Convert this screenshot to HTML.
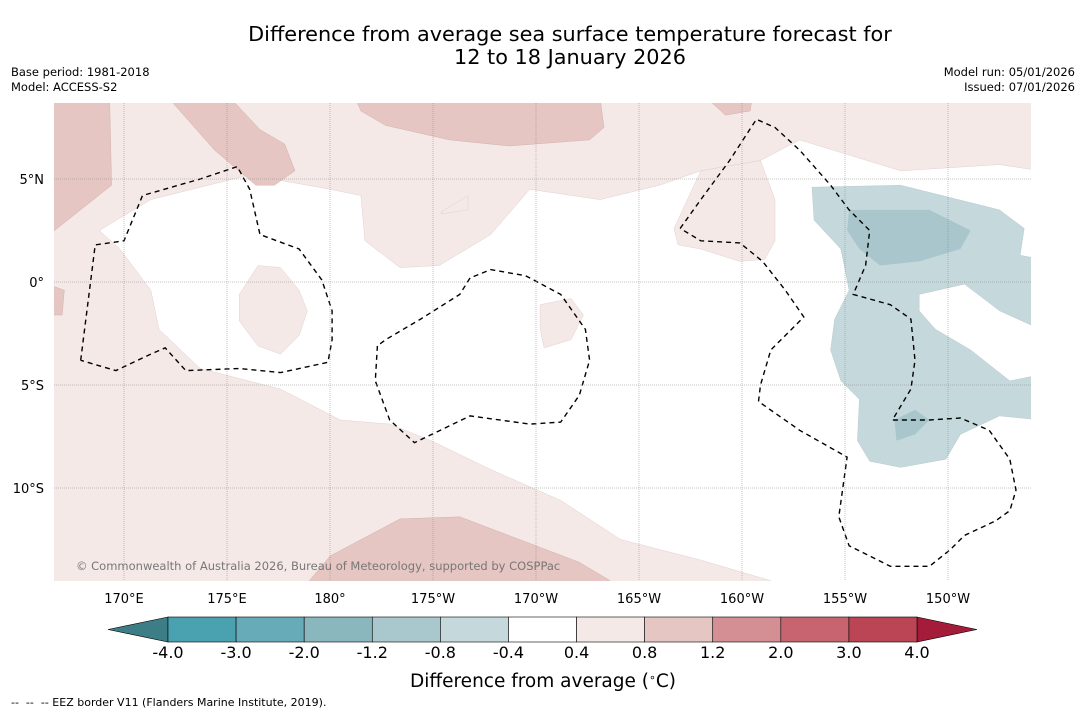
<!DOCTYPE html>
<html><head><meta charset="utf-8">
<style>
body{margin:0;background:#fff;width:1085px;height:713px;overflow:hidden;font-family:"DejaVu Sans","Liberation Sans",sans-serif;}
svg{display:block}
</style></head>
<body>
<svg id="chart" width="1085" height="713" xmlns="http://www.w3.org/2000/svg" font-family="DejaVu Sans, Liberation Sans, sans-serif">
<text x="570" y="41" text-anchor="middle" font-size="20.8">Difference from average sea surface temperature forecast for</text>
<text x="570" y="64" text-anchor="middle" font-size="20.8">12 to 18 January 2026</text>
<text x="11" y="76" font-size="11.5">Base period: 1981-2018</text>
<text x="11" y="91" font-size="11.5">Model: ACCESS-S2</text>
<text x="1075" y="76" font-size="11.5" text-anchor="end">Model run: 05/01/2026</text>
<text x="1075" y="91" font-size="11.5" text-anchor="end">Issued: 07/01/2026</text>
<defs><clipPath id="mapclip"><rect x="54" y="103" width="977" height="478"/></clipPath></defs>
<g id="map" clip-path="url(#mapclip)"></g>
<g id="grid"></g>
<text x="76" y="570" font-size="11.5" fill="#777">© Commonwealth of Australia 2026, Bureau of Meteorology, supported by COSPPac</text>
<g id="cbar"></g>
<text x="543" y="687" text-anchor="middle" font-size="18.5">Difference from average (<tspan baseline-shift="super" font-size="11">∘</tspan>C)</text>
<text x="11" y="706" font-size="11">-- &#160;-- &#160;-- EEZ border V11 (Flanders Marine Institute, 2019).</text>
</svg>
<script>
const lonTicks=[170,175,180,185,190,195,200,205,210];
const lonLabels=["170°E","175°E","180°","175°W","170°W","165°W","160°W","155°W","150°W"];
const latTicks=[5,0,-5,-10];
const latLabels=["5°N","0°","5°S","10°S"];
const levels=[-4.0,-3.0,-2.0,-1.2,-0.8,-0.4,0.4,0.8,1.2,2.0,3.0,4.0];
const levelLabels=["-4.0","-3.0","-2.0","-1.2","-0.8","-0.4","0.4","0.8","1.2","2.0","3.0","4.0"];
const binColors=["#4aa2b1","#68abb8","#89b7bd","#a9c8cd","#c5d8db","#ffffff","#f5e9e8","#e6c6c2","#d48f95","#c8646f","#bc4555"];
const lowColor="#3d7e86", highColor="#a51c3a";

const lightPinkFill=[[166,9],[215,9],[215,-15],[166,-15]];
const whiteRegion=[[168.8,2.5],[171.3,4.0],[176.1,5.2],[180.0,4.5],[181.5,4.2],[181.7,2.0],[183.4,0.7],[185.3,0.8],[187.8,2.3],[189.7,4.5],[193.1,4.0],[196.0,4.7],[198.0,5.4],[200.9,5.9],[202.8,6.9],[207.7,5.4],[212.5,5.7],[214.5,5.4],[214.5,-15],[201.4,-15],[201.4,-14.5],[198.0,-13.5],[194.1,-12.5],[191.2,-10.6],[187.8,-9.1],[184.9,-7.7],[182.9,-6.9],[180.5,-6.7],[177.6,-5.2],[173.7,-4.2],[171.7,-2.3],[171.3,-0.4],[169.8,1.6]];
const pinkPatches=[
[[196.7,2.6],[198.0,5.4],[200.9,5.9],[201.6,4.0],[201.6,2.0],[201.1,1.1],[199.9,1.0],[198.0,1.6],[196.9,1.8]],
[[175.6,-0.6],[176.5,0.8],[177.6,0.7],[178.5,-0.4],[178.9,-1.4],[178.5,-2.6],[177.6,-3.5],[176.5,-3.1],[175.6,-1.9]],
[[190.2,-1.1],[191.7,-0.8],[192.3,-1.6],[191.7,-2.8],[190.4,-3.2],[190.2,-2.3]],
[[185.4,3.4],[186.7,4.2],[186.7,3.5],[185.4,3.3]]];
const midPink=[
[[166,9],[169.3,9],[169.4,4.7],[166,2.0]],
[[172.1,9],[175.1,9],[176.6,7.4],[177.8,6.7],[178.3,5.4],[177.3,4.7],[176.4,4.7],[174.4,6.4]],
[[181.2,9],[193.1,9],[193.3,7.5],[192.6,6.9],[188.7,6.6],[185.8,6.9],[182.7,7.6],[181.5,8.3]],
[[198.2,9],[200.5,9],[200.4,8.3],[199.2,8.1]],
[[179.0,-15],[179.0,-14.5],[180.0,-13.3],[183.4,-11.5],[186.3,-11.4],[189.2,-12.5],[192.1,-13.6],[193.6,-14.5],[193.6,-15]],
[[166,0.0],[167.1,-0.4],[167.0,-1.6],[166,-1.6]]];
const lightBlue=[[203.4,4.6],[207.7,4.7],[212.5,3.5],[213.7,2.6],[213.5,1.3],[214.5,1.1],[214.5,-6.7],[212.5,-6.5],[210.6,-7.4],[209.9,-8.6],[207.7,-9.0],[206.2,-8.7],[205.6,-7.7],[205.7,-5.7],[204.8,-4.8],[204.3,-3.3],[204.5,-1.8],[205.2,-0.4],[204.8,1.6],[203.5,3.0]];
const blueHole=[[208.6,-0.6],[210.8,-0.1],[212.5,-1.4],[214.5,-2.3],[214.5,-4.5],[213.0,-4.8],[211.1,-3.3],[209.4,-2.3],[208.6,-1.4]];
const midBlue=[
[[205.2,3.5],[209.1,3.5],[211.1,2.5],[210.6,1.6],[208.6,1.0],[206.7,0.8],[205.7,1.6],[205.1,2.5]],
[[207.4,-6.7],[208.4,-6.2],[209.1,-6.7],[208.4,-7.4],[207.5,-7.7]]];
const eezA=[[167.9,-3.8],[168.6,1.8],[170.0,2.0],[170.9,4.2],[173.7,5.0],[175.5,5.6],[176.1,4.5],[176.6,2.3],[178.5,1.6],[179.6,0.1],[180.1,-1.4],[180.1,-2.8],[179.9,-3.9],[177.6,-4.4],[175.6,-4.2],[173.0,-4.3],[172.0,-3.2],[171.3,-3.5],[169.6,-4.3],[167.9,-3.8]];
const eezB=[[182.3,-3.1],[182.2,-4.8],[182.9,-6.7],[184.1,-7.8],[186.8,-6.5],[189.7,-6.9],[191.2,-6.8],[192.1,-5.5],[192.6,-3.8],[192.4,-2.3],[191.2,-0.6],[189.5,0.3],[187.8,0.6],[186.8,0.2],[186.3,-0.6],[184.4,-1.8],[182.7,-2.8],[182.3,-3.1]];
const eezC=[[197.0,2.6],[198.0,4.0],[199.4,5.9],[200.7,7.9],[201.6,7.5],[202.8,6.4],[204.3,4.7],[205.2,3.5],[206.2,2.5],[206.0,0.8],[205.4,-0.6],[207.2,-1.1],[208.2,-1.8],[208.4,-3.8],[208.2,-5.2],[207.3,-6.7],[209.1,-6.7],[210.6,-6.6],[212.0,-7.2],[213.0,-8.6],[213.3,-10.1],[213.0,-11.1],[212.3,-11.6],[210.8,-12.3],[210.1,-13.0],[209.1,-13.8],[207.2,-13.8],[205.2,-12.8],[204.7,-11.4],[205.1,-8.5],[202.8,-7.2],[200.8,-5.8],[200.9,-5.0],[201.4,-3.3],[203.0,-1.7],[202.1,-0.4],[201.0,1.0],[199.9,1.9],[198.0,2.0],[197.0,2.6]];

const NS="http://www.w3.org/2000/svg";
const X=lon=>124+(lon-170)*20.6;
const Y=lat=>282-lat*20.6;
const pts=a=>a.map(p=>X(p[0]).toFixed(1)+","+Y(p[1]).toFixed(1)).join(" ");
function mk(tag,parent,attrs){const e=document.createElementNS(NS,tag);for(const k in attrs)e.setAttribute(k,attrs[k]);parent.appendChild(e);return e;}
const map=document.getElementById('map');
function poly(a,fill,name,stroke){const e=mk('polygon',map,{points:pts(a),fill:fill,stroke:stroke||'none','stroke-width':0.4});

return e;}
poly(lightPinkFill,'#f5e9e8','light-pink-field');
poly(whiteRegion,'#ffffff','neutral-region','#d8c8c6');
pinkPatches.forEach(a=>poly(a,'#f5e9e8','light-pink-patch','#d8c8c6'));
midPink.forEach(a=>poly(a,'#e6c6c2','mid-pink-patch','#c9a9a5'));
poly(lightBlue,'#c5d8db','light-blue-region','#b0c4c7');
poly(blueHole,'#ffffff','neutral-hole','#b0c4c7');
midBlue.forEach(a=>poly(a,'#a9c6cc','mid-blue-patch'));
[eezA,eezB,eezC].forEach(a=>{const e=mk('polyline',map,{points:pts(a),fill:'none',stroke:'#000','stroke-width':1.4,'stroke-dasharray':'5,4'});

});

const grid=document.getElementById('grid');
lonTicks.forEach((l,i)=>{const x=X(l);
const g=mk('line',grid,{x1:x,x2:x,y1:103,y2:581,stroke:'#888','stroke-width':0.5,'stroke-dasharray':'1,1'});


const t=mk('text',grid,{x:x,y:603,'text-anchor':'middle','font-size':13});t.textContent=lonLabels[i];

});
latTicks.forEach((l,i)=>{const y=Y(l);
const g=mk('line',grid,{x1:54,x2:1031,y1:y,y2:y,stroke:'#888','stroke-width':0.5,'stroke-dasharray':'1,1'});


const t=mk('text',grid,{x:44,y:y+5,'text-anchor':'end','font-size':13});t.textContent=latLabels[i];

});

const cb=document.getElementById('cbar');
const cx0=168,cx1=917,cy=617,ch=25,bw=(cx1-cx0)/binColors.length;
const lt=mk('polygon',cb,{points:`${cx0},${cy} 108,${cy+ch/2} ${cx0},${cy+ch}`,fill:lowColor,stroke:'#000','stroke-width':0.6});


const rt=mk('polygon',cb,{points:`${cx1},${cy} 977,${cy+ch/2} ${cx1},${cy+ch}`,fill:highColor,stroke:'#000','stroke-width':0.6});


binColors.forEach((c,i)=>{const r=mk('rect',cb,{x:cx0+i*bw,y:cy,width:bw,height:ch,fill:c,stroke:'#000','stroke-width':0.6});

});
levels.forEach((v,i)=>{const t=mk('text',cb,{x:cx0+i*bw,y:658,'text-anchor':'middle','font-size':16});t.textContent=levelLabels[i];

});
</script>
</body></html>
